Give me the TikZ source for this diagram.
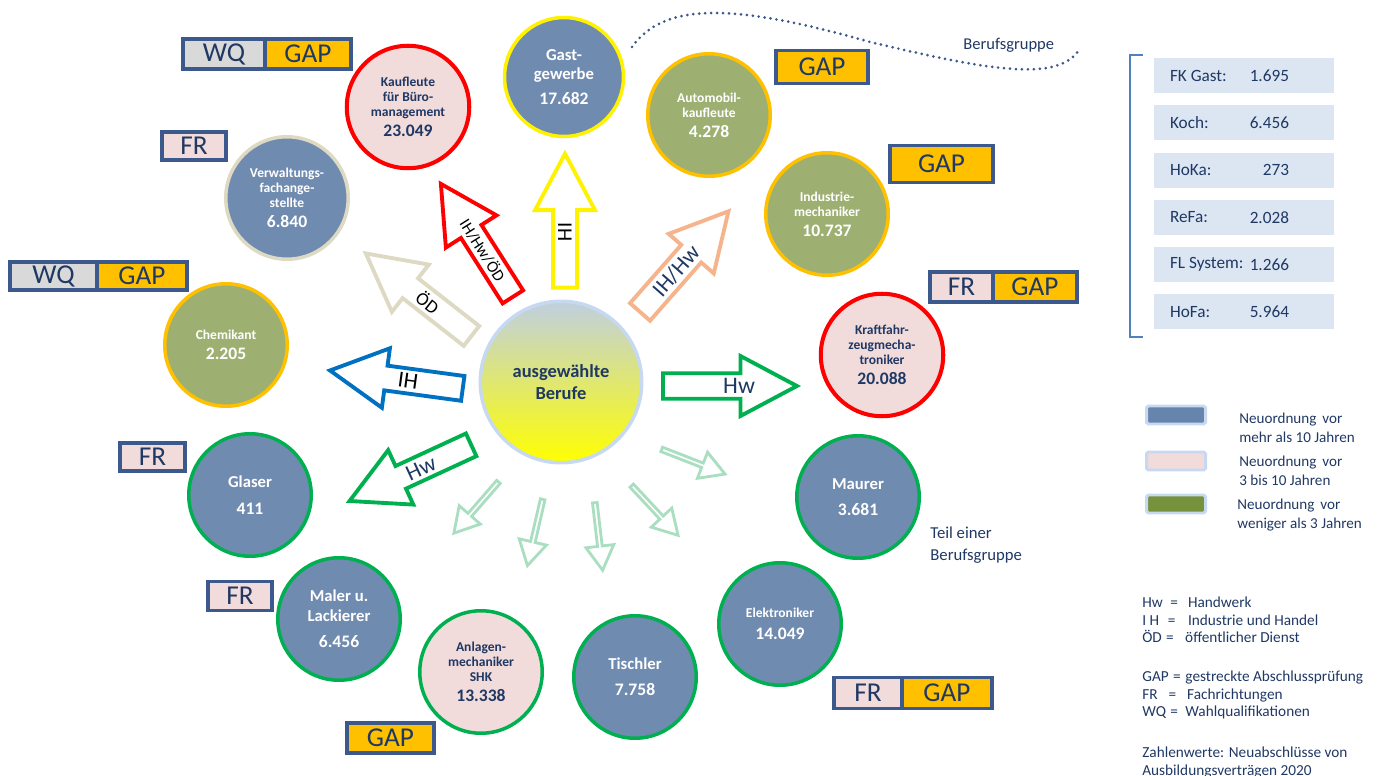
\documentclass[tikz,border=0pt]{standalone}
\usepackage{fontspec}
\setmainfont{Carlito}
\usetikzlibrary{positioning,shapes.arrows}

\definecolor{txtblue}{RGB}{31,56,100}
\definecolor{altblue}{RGB}{112,139,176}
\definecolor{midpink}{RGB}{242,220,219}
\definecolor{neugreen}{RGB}{157,176,114}
\definecolor{gold}{RGB}{255,192,0}
\definecolor{okgreen}{RGB}{0,176,80}
\definecolor{beige}{RGB}{221,217,195}
\definecolor{tagblue}{RGB}{59,89,140}
\definecolor{wqgrey}{RGB}{217,217,217}
\definecolor{palegreen}{RGB}{170,222,192}
\definecolor{peach}{RGB}{245,180,140}
\definecolor{ihblue}{RGB}{0,112,192}
\definecolor{boxblue}{RGB}{220,230,242}
\definecolor{bracketblue}{RGB}{79,129,189}
\definecolor{legframe}{RGB}{198,217,241}
\definecolor{legblue}{RGB}{103,132,173}
\definecolor{leggreen}{RGB}{118,146,60}
\definecolor{topgrey}{RGB}{192,207,225}

\newcommand\zahl[1]{{\fontsize{10}{12}\selectfont #1}}
% kuerzel, lage von "=", lage der erklaerung, erklaerung
\newcommand\abk[4]{\makebox[#2][l]{#1}\makebox[\dimexpr #3-#2\relax][l]{=}#4}

\tikzset{
  job/.style={circle, minimum size=2.45cm, line width=2pt, align=center, inner sep=0pt},
  altjob/.style={job, fill=altblue, text=white},
  midjob/.style={job, fill=midpink, text=txtblue},
  neujob/.style={job, fill=neugreen, text=white},
  smallname/.style={font=\bfseries\fontsize{7.7}{8.4}\selectfont},
  bigname/.style={font=\bfseries\fontsize{9.5}{11}\selectfont},
  tag/.style={draw=tagblue, line width=2.2pt, inner sep=0pt, outer sep=0pt, text=txtblue,
    font=\fontsize{15.5}{16}\selectfont},
  wqtag/.style={tag, fill=wqgrey},
  gaptag/.style={tag, fill=gold},
  frtag/.style={tag, fill=midpink},
  bigarrow/.style={single arrow, fill=white, line width=2.2pt, minimum height=26.8mm,
    minimum width=12mm, single arrow head extend=2.6mm, single arrow tip angle=56,
    inner sep=0pt, outer sep=0pt},
  smallarrow/.style={single arrow, draw=palegreen, fill=white, line width=1.6pt,
    minimum height=13.6mm, minimum width=5.6mm, single arrow head extend=1.4mm,
    single arrow tip angle=60, inner sep=0pt},
  pointleft/.style={shape border rotate=180},
  fkbox/.style={fill=boxblue, minimum width=36mm, minimum height=7mm, inner sep=0pt},
  bluetext/.style={text=txtblue, inner sep=0pt},
  swatch/.style={draw=legframe, line width=1.7pt, rounded corners=1pt, minimum width=11.8mm,
    minimum height=3.6mm, inner sep=0pt}
}

\begin{document}
\begin{tikzpicture}[x=0.02cm, y=-0.02cm]
  \useasboundingbox (0,0) rectangle (1382,776);

  % mitte
  \node[job, minimum size=3.23cm, draw=legframe, top color=topgrey, bottom color=yellow,
    text=txtblue, font=\bfseries\fontsize{10.5}{12.5}\selectfont] (mitte) at (561,382)
    {ausgewählte\\Berufe};

  % berufe
  \node[altjob, bigname, draw=yellow, minimum size=2.38cm] (gast) at (564,77)
    {Gast-\\gewerbe\\[3pt]\zahl{17.682}};
  \node[midjob, smallname, draw=red, line width=2.3pt] (kauf) at (408,107)
    {Kaufleute\\für Büro-\\management\\[3pt]\zahl{23.049}};
  \node[altjob, smallname, draw=beige] (verw) at (287,198)
    {Verwaltungs-\\fachange-\\stellte\\[3pt]\zahl{6.840}};
  \node[neujob, smallname, draw=gold] (chem) at (226,345)
    {Chemikant\\[3pt]\zahl{2.205}};
  \node[altjob, bigname, draw=okgreen] (glas) at (250,495)
    {Glaser\\[4pt]\zahl{411}};
  \node[altjob, bigname, draw=okgreen] (maler) at (339,619)
    {Maler u.\\Lackierer\\[4pt]\zahl{6.456}};
  \node[midjob, smallname, draw=okgreen] (anlagen) at (481,672)
    {Anlagen-\\mechaniker\\SHK\\[3pt]\zahl{13.338}};
  \node[altjob, bigname, draw=okgreen] (tisch) at (635,677)
    {Tischler\\[4pt]\zahl{7.758}};
  \node[altjob, smallname, draw=okgreen] (elek) at (780,624)
    {Elektroniker\\[4pt]\zahl{14.049}};
  \node[altjob, bigname, draw=okgreen] (maurer) at (858,497)
    {Maurer\\[4pt]\zahl{3.681}};
  \node[midjob, smallname, draw=red, line width=2.3pt] (kfz) at (882,355)
    {Kraftfahr-\\zeugmecha-\\troniker\\[3pt]\zahl{20.088}};
  \node[neujob, smallname, draw=gold] (indu) at (827,214)
    {Industrie-\\mechaniker\\[3pt]\zahl{10.737}};
  \node[neujob, smallname, draw=gold] (auto) at (709,115)
    {Automobil-\\kaufleute\\[3pt]\zahl{4.278}};

  % pfeile
  \node[bigarrow, draw=yellow, pointleft, rotate=-90, font=\fontsize{12}{12}\selectfont]
    (gastpfeil) at (565,232) {IH};
  \node[bigarrow, draw=red, pointleft, rotate=-57.5, font=\fontsize{9.3}{10}\selectfont]
    (kaufpfeil) at (483,250) {IH/Hw/ÖD};
  \node[bigarrow, draw=beige, pointleft, rotate=-38, font=\fontsize{10.5}{11}\selectfont]
    (verwpfeil) at (428,302) {ÖD};
  \node[bigarrow, draw=ihblue, pointleft, rotate=-7.7, font=\fontsize{13}{13}\selectfont]
    (chempfeil) at (408,381) {IH};
  \node[bigarrow, draw=okgreen, pointleft, rotate=24.8, text=txtblue, font=\fontsize{13}{13}\selectfont]
    (glaspfeil) at (421,468) {Hw};
  \node[bigarrow, draw=okgreen, text=txtblue, font=\fontsize{13.5}{14}\selectfont]
    (kfzpfeil) at (718,386) {\hspace*{24pt}Hw};
  \node[bigarrow, draw=peach, rotate=48.7, text=txtblue, font=\fontsize{13}{13}\selectfont]
    (indupfeil) at (676,271) {IH/Hw};

  \node[smallarrow, pointleft, rotate=49] (p1) at (477.5,506) {};
  \node[smallarrow, pointleft, rotate=77] (p2) at (535.5,530.5) {};
  \node[smallarrow, rotate=-83.4] (p3) at (598.5,534.5) {};
  \node[smallarrow, rotate=-47] (p4) at (653.5,509) {};
  \node[smallarrow, rotate=-21.3] (p5) at (691.5,461) {};

  % kaestchen
  \node[wqtag, minimum width=16.4mm, minimum height=6mm, anchor=west] (wq1) at (183,54) {WQ};
  \node[gaptag, minimum width=17.2mm, minimum height=6mm, right=0pt of wq1] (gap1) {GAP};
  \node[frtag, minimum width=12.8mm, minimum height=5.6mm, anchor=west] (fr1) at (162,146) {FR};
  \node[wqtag, minimum width=17.4mm, minimum height=5.6mm, anchor=west] (wq2) at (10,276) {WQ};
  \node[gaptag, minimum width=18mm, minimum height=5.6mm, right=0pt of wq2] (gap2) {GAP};
  \node[frtag, minimum width=13mm, minimum height=5.6mm, anchor=west] (fr2) at (120,457) {FR};
  \node[frtag, minimum width=12.8mm, minimum height=5.8mm, anchor=west] (fr3) at (208,596) {FR};
  \node[gaptag, minimum width=17.4mm, minimum height=6mm, anchor=west] (gap3) at (347,738) {GAP};
  \node[frtag, minimum width=13.6mm, minimum height=6.2mm, anchor=west] (fr4) at (834,693) {FR};
  \node[gaptag, minimum width=18mm, minimum height=6.2mm, right=0pt of fr4] (gap4) {GAP};
  \node[frtag, minimum width=12.6mm, minimum height=6mm, anchor=west] (fr5) at (930,287) {FR};
  \node[gaptag, minimum width=16.8mm, minimum height=6mm, right=0pt of fr5] (gap5) {GAP};
  \node[gaptag, minimum width=20.6mm, minimum height=7.4mm, anchor=west] (gap6) at (890,164) {GAP};
  \node[gaptag, minimum width=18.4mm, minimum height=6.6mm, anchor=west] (gap7) at (776,67) {GAP};

  % berufsgruppe
  \draw[tagblue, line width=1.7pt, line cap=round, dash pattern=on 0pt off 3.4pt]
    (632,47) .. controls (665,0) and (740,5) .. (870,42)
    .. controls (980,68) and (1060,85) .. (1080,48);
  \node[bluetext, anchor=north west, font=\fontsize{9.4}{11}\selectfont] (gruppe) at (963,38) {Berufsgruppe};
  \node[bluetext, anchor=north west, align=left, font=\fontsize{9.5}{12}\selectfont] (teil) at (930,527)
    {Teil einer\\Berufsgruppe};

  % gastgewerbe aufgeteilt
  \draw[bracketblue, line width=1.1pt] (1143,55) -- (1130,55) -- (1130,337) -- (1143,337);
  \foreach \nm/\val [count=\i] in {FK Gast:/1.695, Koch:/6.456, HoKa:/273, ReFa:/2.028,
      FL System:/1.266, HoFa:/5.964} {
    \node[fkbox] (box\i) at (1244,28.5+47.2*\i) {};
    \node[bluetext, anchor=west, font=\fontsize{9.8}{11}\selectfont] (nm\i) at ([xshift=3.2mm]box\i.west) {\nm};
    \node[bluetext, anchor=east, font=\fontsize{9.8}{11}\selectfont] (val\i) at ([xshift=-9mm]box\i.east) {\val};
  }

  % legende
  \node[swatch, fill=legblue] (sw1) at (1176,415) {};
  \node[swatch, fill=midpink] (sw2) at (1176,461) {};
  \node[swatch, fill=leggreen] (sw3) at (1176,504) {};
  \node[bluetext, anchor=west, align=left, font=\fontsize{8.6}{10.6}\selectfont] (leg1) at (1239,428)
    {Neuordnung \,vor\\mehr als 10 Jahren};
  \node[bluetext, anchor=west, align=left, font=\fontsize{8.6}{10.6}\selectfont] (leg2) at (1239,471)
    {Neuordnung \,vor\\3 bis 10 Jahren};
  \node[bluetext, anchor=west, align=left, font=\fontsize{8.6}{10.6}\selectfont] (leg3) at (1237,515)
    {Neuordnung \,vor\\weniger als 3 Jahren};

  \node[bluetext, anchor=north west, align=left, font=\fontsize{8.7}{9.9}\selectfont] (abk1) at (1142,597)
    {\abk{Hw}{16pt}{26pt}{Handwerk}\\\abk{I H}{14.5pt}{26pt}{Industrie und Handel}\\
     \abk{ÖD}{13.5pt}{24.4pt}{öffentlicher Dienst}};
  \node[bluetext, anchor=north west, align=left, font=\fontsize{8.7}{9.9}\selectfont] (abk2) at (1142,671)
    {\abk{GAP}{17.5pt}{24.5pt}{gestreckte Abschlussprüfung}\\\abk{FR}{15pt}{25.5pt}{Fachrichtungen}\\
     \abk{WQ}{16pt}{24.5pt}{Wahlqualifikationen}};
  \node[bluetext, anchor=north west, align=left, font=\fontsize{8.7}{10.2}\selectfont] (zahlen) at (1142,747)
    {Zahlenwerte: Neuabschlüsse von\\Ausbildungsverträgen 2020};
\end{tikzpicture}
\end{document}
